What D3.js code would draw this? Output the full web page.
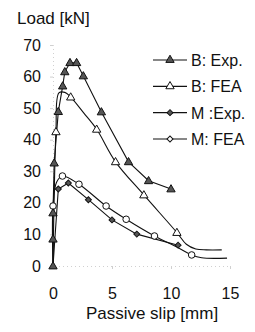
<!DOCTYPE html>
<html>
<head>
<meta charset="utf-8">
<script src="https://cdn.jsdelivr.net/npm/d3@7"></script>
<style>
  body { margin: 0; background: #fff; }
</style>
</head>
<body>
<div id="chart"></div>
<script>
// Load vs passive slip, B and M specimens
const xTicks = [0, 5, 10, 15];
const yTicks = [0, 10, 20, 30, 40, 50, 60, 70];

// experimental series: [slip mm, load kN]
const bExp = [[0, 0], [0, 8.5], [0, 16.8], [0.1, 32.6], [0.45, 48.9], [0.82, 57], [1.0, 61.5],
  [1.44, 64.4], [2.0, 64.4], [2.57, 60.2], [4.1, 48.8], [6.4, 33], [8.1, 27], [10, 24.4]];
const mExp = [[0, 0], [0.45, 24.4], [1.3, 26.3], [3.0, 21], [5.0, 14.6], [7.1, 10.1], [10.6, 6.6]];

// FEA curves and the points where markers are drawn on them
const bFeaCurve = [[0, 0], [0.1, 22], [0.25, 42.5], [0.5, 54.8], [1.0, 55], [1.5, 53.5], [2.6, 48.5],
  [3.7, 43.3], [5.3, 33], [7.7, 22.5], [10.5, 10.6], [11.3, 6.9], [12.1, 5.4], [13, 5.1], [14.3, 5.1]];
const bFeaMarks = [[0.25, 42.5], [1.5, 53.5], [3.7, 43.3], [5.3, 33], [7.7, 22.5], [10.5, 10.6]];
const mFeaCurve = [[0, 0], [0, 19], [0.3, 26.5], [0.8, 28.5], [2.2, 25.9], [4.5, 19], [6.2, 14.8],
  [8.6, 9.5], [10.5, 6.0], [11.75, 3.5], [12.6, 2.6], [14.75, 2.5]];
const mFeaMarks = [[0, 19], [0.8, 28.5], [2.2, 25.9], [4.5, 19], [6.2, 14.8], [8.6, 9.5], [11.75, 3.5]];

const legendLabels = ["B: Exp.", "B: FEA", "M :Exp.", "M: FEA"];

const width = 255, height = 332;
const font = "'Liberation Sans', Arial, sans-serif";

const svg = d3.select("#chart").append("svg")
    .attr("width", width)
    .attr("height", height)
    .attr("font-family", font);

const x = d3.scaleLinear().domain([0, 15]).range([53, 230]);
const y = d3.scaleLinear().domain([0, 70]).range([266, 45]);

// faint axes, like the scanned original
const yAxis = svg.append("g")
    .attr("transform", `translate(${x(0)},0)`)
    .call(d3.axisLeft(y).tickValues(yTicks).tickSize(3).tickPadding(9));
const xAxis = svg.append("g")
    .attr("transform", `translate(0,${y(0)})`)
    .call(d3.axisBottom(x).tickValues(xTicks).tickSize(3).tickPadding(19));

[yAxis, xAxis].forEach(ax => {
    ax.attr("font-family", font).attr("font-size", 16);
    ax.select(".domain").attr("stroke", "#d0d0d0").attr("stroke-dasharray", "1,3");
    ax.selectAll(".tick line").attr("stroke", "#d0d0d0");
    ax.selectAll(".tick text").attr("fill", "#111");
});

svg.append("text")
    .attr("x", 17).attr("y", 24)
    .attr("font-size", 17)
    .attr("fill", "#111")
    .text("Load [kN]");

svg.append("text")
    .attr("x", 152).attr("y", 319)
    .attr("text-anchor", "middle")
    .attr("font-size", 17)
    .attr("fill", "#111")
    .text("Passive slip [mm]");

const straight = d3.line().x(d => x(d[0])).y(d => y(d[1]));
const smooth = d3.line().x(d => x(d[0])).y(d => y(d[1])).curve(d3.curveCatmullRom.alpha(0.5));

const lines = svg.append("g").attr("fill", "none").attr("stroke", "#111").attr("stroke-width", 1.1);
lines.append("path").attr("d", smooth(bFeaCurve));
lines.append("path").attr("d", smooth(mFeaCurve));
lines.append("path").attr("d", straight(mExp));
lines.append("path").attr("d", straight(bExp));

// marker styles per series
const markers = [
    { type: d3.symbolTriangle, size: 30, fill: "#555", rot: 0 },
    { type: d3.symbolTriangle, size: 30, fill: "#fff", rot: 0 },
    { type: d3.symbolSquare, size: 18, fill: "#555", rot: 45 },
    { type: d3.symbolCircle, size: 34, fill: "#fff", rot: 0 }
];

function drawMarks(data, m) {
    svg.append("g").selectAll("path")
        .data(data)
        .enter().append("path")
        .attr("d", d3.symbol().type(m.type).size(m.size))
        .attr("transform", d => `translate(${x(d[0])},${y(d[1]) + (m.type === d3.symbolTriangle ? 0.5 : 0)}) rotate(${m.rot})`)
        .attr("fill", m.fill)
        .attr("stroke", "#111")
        .attr("stroke-width", 1);
}

drawMarks(bFeaMarks, markers[1]);
drawMarks(mFeaMarks, markers[3]);
drawMarks(mExp.slice(1), markers[2]);
drawMarks(bExp, markers[0]);

// legend
const legendY = d3.scalePoint().domain(legendLabels).range([60, 139]);
const legend = svg.append("g");
legendLabels.forEach((lab, i) => {
    const ly = legendY(lab);
    legend.append("line")
        .attr("x1", 153).attr("x2", 187)
        .attr("y1", ly).attr("y2", ly)
        .attr("stroke", "#111").attr("stroke-width", 1.1);
    const m = i === 3 ? { type: d3.symbolSquare, size: 18, fill: "#fff", rot: 45 } : markers[i];
    legend.append("path")
        .attr("d", d3.symbol().type(m.type).size(m.size))
        .attr("transform", `translate(170,${ly}) rotate(${m.rot})`)
        .attr("fill", m.fill)
        .attr("stroke", "#111");
    legend.append("text")
        .attr("x", 191).attr("y", ly + 6)
        .attr("font-size", 16)
        .attr("fill", "#111")
        .text(lab);
});
</script>
</body>
</html>
